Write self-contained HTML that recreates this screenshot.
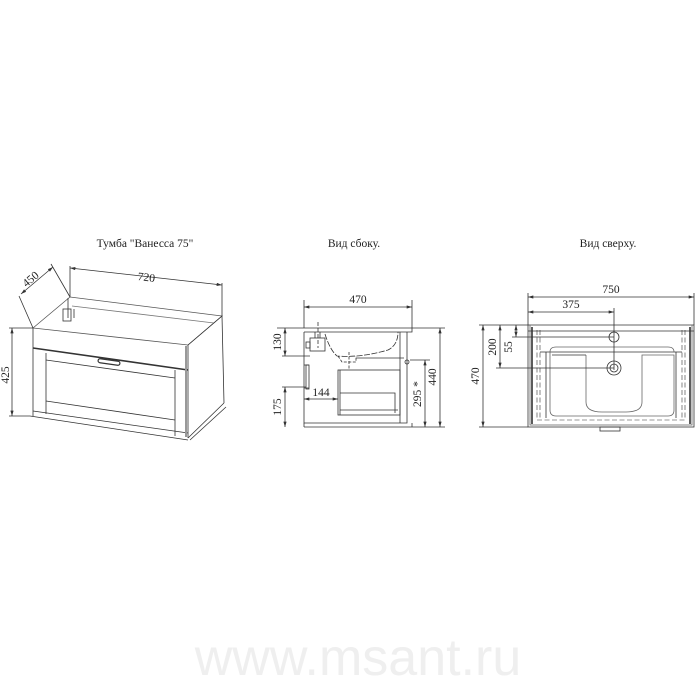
<!DOCTYPE html>
<html><head><meta charset="utf-8"><style>
html,body{margin:0;padding:0;background:#fff;width:700px;height:680px;overflow:hidden}
svg{display:block}
text{font-family:"Liberation Serif",serif;fill:#222}
</style></head><body>
<svg width="700" height="680" viewBox="0 0 700 680" xmlns="http://www.w3.org/2000/svg">
<defs>
<marker id="a" viewBox="0 0 10 6" refX="10" refY="3" markerWidth="7" markerHeight="4" orient="auto-start-reverse"><path d="M0,0L10,3L0,6z" fill="#333"/></marker>
</defs>
<g font-size="11.5">
<text x="145" y="247" text-anchor="middle">Тумба "Ванесса 75"</text>
<text x="354" y="247" text-anchor="middle">Вид сбоку.</text>
<text x="608" y="247" text-anchor="middle">Вид сверху.</text>
</g>
<g stroke="#333" stroke-width="0.8" fill="none">
<!-- LEFT ISO VIEW -->
<path d="M33,328 L70,297 L222,316 L188,345 Z" stroke="#555"/>
<path d="M72,306 L214,323" stroke="#777"/>
<path d="M68,298 L68,318 M74,309 L74,318"/>
<rect x="63" y="309" width="8" height="12"/>
<path d="M33,328 L33,416 M188,345 L188,438 M222,316 L224,403 M188,345 L222,316"/>
<path d="M33,348 L188,370" stroke-width="1.6"/>
<path d="M46,353 L46,414 M175,370 L175,436"/>
<path d="M46,360 L175,378 M46,401 L175,420"/>
<path d="M33,411 L188,433 M30,416 L188,440 M188,438 L224,403 M190,440 L226,407"/>
<rect x="98" y="360" width="22" height="4" rx="2" transform="rotate(8 109 362)" stroke-width="1.2"/>
<path d="M186,346 L186,437" stroke="#999" stroke-width="2"/>
<!-- dims -->
<path d="M70,268 L222,285" marker-start="url(#a)" marker-end="url(#a)"/>
<path d="M70,266 L70,297 M222,283 L222,316"/>
<path d="M21,294 L53,267" marker-start="url(#a)" marker-end="url(#a)"/>
<path d="M19,296 L33,328 M51,264 L70,297"/>
<path d="M12,328 L12,416" marker-start="url(#a)" marker-end="url(#a)"/>
<path d="M9,328 L33,328 M9,416 L30,416"/>
<!-- SIDE VIEW -->
<path d="M277,328 L412,328 L412,332 L304,332"/>
<path d="M304,300 L304,328 M412,300 L412,328"/>
<path d="M304,307 L412,307" marker-start="url(#a)" marker-end="url(#a)"/>
<path d="M304,332 L304,423 L407,423 L407,332"/>
<path d="M304,427 L412,427 M304,423 L304,427 M412,423 L412,427"/>
<path d="M400,332 L400,423"/>
<rect x="306" y="365" width="3" height="24"/>
<path d="M309,388 L304,388 M309,365 L304,365"/>
<rect x="310" y="338" width="15" height="13"/>
<rect x="306" y="342" width="4" height="6"/>
<path d="M315,332 L315,338 M320,332 L320,338" />
<path d="M318,322 L318,348" stroke-dasharray="4,2"/>
<path d="M325,334 Q330,350 337,356 Q360,358 388,350 Q398,345 398,332" stroke-dasharray="6,1.5"/>
<path d="M338,356 L342,362 L356,362 L356,356 M349,352 L349,370" stroke-dasharray="3,1.5"/>
<path d="M356,358 L404,358"/>
<rect x="338" y="370" width="62" height="45"/>
<path d="M340,370 L340,415 M340,393 L395,393 L395,413 M340,410 L398,410"/>
<circle cx="407" cy="362" r="2"/>
<path d="M285,328 L285,356" marker-start="url(#a)" marker-end="url(#a)"/>
<path d="M282,356 L310,356"/>
<path d="M285,387 L285,427" marker-start="url(#a)" marker-end="url(#a)"/>
<path d="M282,387 L306,387"/>
<path d="M304,399 L338,399" marker-start="url(#a)" marker-end="url(#a)"/>
<path d="M425,360 L425,427" marker-start="url(#a)" marker-end="url(#a)"/>
<path d="M410,360 L430,360"/>
<path d="M440,328 L440,427" marker-start="url(#a)" marker-end="url(#a)"/>
<path d="M412,328 L445,328 M412,427 L445,427"/>
<!-- TOP VIEW -->
<rect x="528" y="325" width="166" height="102"/>
<rect x="530" y="325" width="162" height="100" stroke="#666"/>
<path d="M532,327 L532,424 M690,327 L690,424" stroke-width="1.6"/>
<path d="M537,330 L537,420 M540,330 L540,418 M682,330 L682,420 M685,330 L685,418 M537,420 L685,420" stroke-dasharray="5,2.5" stroke-width="0.6"/>
<path d="M528,331 L694,331"/>
<path d="M546,352 L546,418 M676,352 L676,418 M540,352 L682,352"/>
<path d="M586,355 L586,402 Q586,412 602,412 L626,412 Q642,412 642,402 L642,355 L674,355 L674,410 Q674,416 668,416 L556,416 Q550,416 550,410 L550,352 Q550,347 556,347 L668,347 Q674,347 674,352" stroke="#666"/>
<path d="M586,355 L552,355"/>
<circle cx="614" cy="337" r="5"/>
<circle cx="614" cy="368" r="7"/>
<circle cx="614" cy="368" r="4"/>
<path d="M528,297 L694,297" marker-start="url(#a)" marker-end="url(#a)"/>
<path d="M528,293 L528,325 M694,293 L694,325"/>
<path d="M528,312 L614,312" marker-start="url(#a)" marker-end="url(#a)"/>
<path d="M614,308 L614,370"/>
<path d="M483,325 L483,427" marker-start="url(#a)" marker-end="url(#a)"/>
<path d="M479,325 L528,325 M479,427 L528,427"/>
<path d="M500,325 L500,368" marker-start="url(#a)" marker-end="url(#a)"/>
<path d="M496,368 L614,368"/>
<path d="M516,325 L516,337" marker-start="url(#a)" marker-end="url(#a)"/>
<path d="M512,337 L614,337"/>
<rect x="600" y="427" width="20" height="4"/>
</g>
<g font-size="11.5">
<text x="146" y="281" text-anchor="middle" transform="rotate(6.5 146 281)">720</text>
<text x="33" y="282" text-anchor="middle" transform="rotate(-40 33 282)">450</text>
<text x="9" y="375" text-anchor="middle" transform="rotate(-90 9 375)">425</text>
<text x="358" y="303" text-anchor="middle">470</text>
<text x="281" y="342" text-anchor="middle" transform="rotate(-90 281 342)">130</text>
<text x="281" y="407" text-anchor="middle" transform="rotate(-90 281 407)">175</text>
<text x="321" y="396" text-anchor="middle">144</text>
<text x="421" y="394" text-anchor="middle" transform="rotate(-90 421 394)">295 *</text>
<text x="436" y="377" text-anchor="middle" transform="rotate(-90 436 377)">440</text>
<text x="611" y="293" text-anchor="middle">750</text>
<text x="571" y="308" text-anchor="middle">375</text>
<text x="479" y="376" text-anchor="middle" transform="rotate(-90 479 376)">470</text>
<text x="496" y="347" text-anchor="middle" transform="rotate(-90 496 347)">200</text>
<text x="512" y="347" text-anchor="middle" transform="rotate(-90 512 347)">55</text>
</g>
<text x="358" y="675" text-anchor="middle" font-size="52" style="font-family:'Liberation Sans',sans-serif;fill:#efefef">www.msant.ru</text>
</svg>
</body></html>
